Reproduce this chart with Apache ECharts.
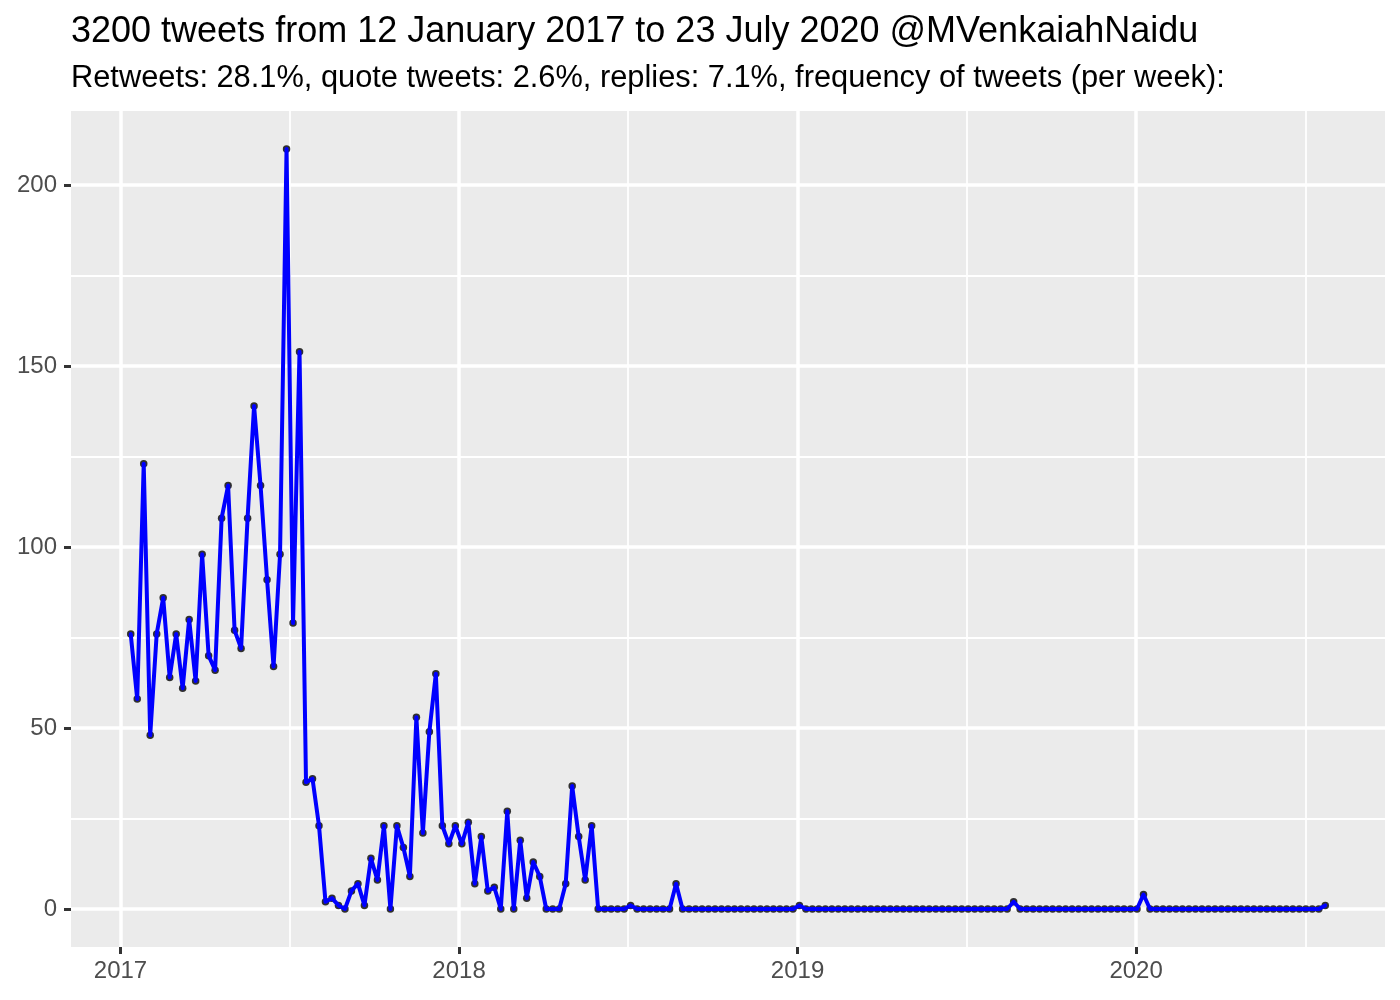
<!DOCTYPE html>
<html>
<head>
<meta charset="utf-8">
<script src="https://cdn.jsdelivr.net/npm/echarts@6/dist/echarts.min.js"></script>
<style>
html,body{margin:0;padding:0;background:#fff;}
#chart{width:1400px;height:1000px;}
</style>
</head>
<body>
<div id="chart"></div>
<script>
// ---- data ----
const titleText = '3200 tweets from 12 January 2017 to 23 July 2020 @MVenkaiahNaidu';
const subtitleText = 'Retweets: 28.1%, quote tweets: 2.6%, replies: 7.1%, frequency of tweets (per week):';
const firstWeek = [2017, 0, 12];   // 12 January 2017, one point per week
const weeklyTweets = [
  76, 58, 123, 48, 76, 86, 64, 76, 61, 80, 63, 98, 70, 66, 108, 117, 77, 72, 108, 139,
  117, 91, 67, 98, 210, 79, 154, 35, 36, 23, 2, 3, 1, 0, 5, 7, 1, 14, 8, 23,
  0, 23, 17, 9, 53, 21, 49, 65, 23, 18, 23, 18, 24, 7, 20, 5, 6, 0, 27, 0,
  19, 3, 13, 9, 0, 0, 0, 7, 34, 20, 8, 23, 0, 0, 0, 0, 0, 1, 0, 0,
  0, 0, 0, 0, 7, 0, 0, 0, 0, 0, 0, 0, 0, 0, 0, 0, 0, 0, 0, 0,
  0, 0, 0, 1, 0, 0, 0, 0, 0, 0, 0, 0, 0, 0, 0, 0, 0, 0, 0, 0,
  0, 0, 0, 0, 0, 0, 0, 0, 0, 0, 0, 0, 0, 0, 0, 0, 2, 0, 0, 0,
  0, 0, 0, 0, 0, 0, 0, 0, 0, 0, 0, 0, 0, 0, 0, 0, 4, 0, 0, 0,
  0, 0, 0, 0, 0, 0, 0, 0, 0, 0, 0, 0, 0, 0, 0, 0, 0, 0, 0, 0,
  0, 0, 0, 0, 1
];
const yearTickDates = [[2017,0,1],[2018,0,1],[2019,0,1],[2020,0,1]];
const halfYearDates = [[2016,6,2],[2017,6,2],[2018,6,2],[2019,6,2],[2020,6,2]];
const yMajorTicks = [0, 50, 100, 150, 200];
const yMinorTicks = [25, 75, 125, 175];

// ---- build ----
const weekDates = weeklyTweets.map((_, i) => new Date(firstWeek[0], firstWeek[1], firstWeek[2] + 7 * i).getTime());
const points = weekDates.map((d, i) => [d, weeklyTweets[i]]);
const toTs = a => new Date(a[0], a[1], a[2]).getTime();
const yearTicks = yearTickDates.map(toTs);
const halfTicks = halfYearDates.map(toTs);

const xSpan = weekDates[weekDates.length - 1] - weekDates[0];
const xMin = weekDates[0] - 0.05 * xSpan;
const xMax = weekDates[weekDates.length - 1] + 0.05 * xSpan;
const yDataMax = Math.max(...weeklyTweets), yDataMin = Math.min(...weeklyTweets);
const ySpan = yDataMax - yDataMin;
const yMin = yDataMin - 0.05 * ySpan;
const yMax = yDataMax + 0.05 * ySpan;

const FONT = 'Liberation Sans, Arial, Helvetica, sans-serif';
const halfTicksIn = halfTicks.filter(t => t > xMin && t < xMax);

const chart = echarts.init(document.getElementById('chart'), null, {renderer: 'canvas'});
chart.setOption({
  animation: false,
  backgroundColor: '#FFFFFF',
  title: [
    {text: titleText, left: 71, top: 14, padding: 0,
     textStyle: {fontFamily: FONT, fontSize: 36, fontWeight: 'normal', color: '#000000'}},
    {text: subtitleText, left: 71, top: 63, padding: 0,
     textStyle: {fontFamily: FONT, fontSize: 30.8, fontWeight: 'normal', color: '#000000'}}
  ],
  grid: {left: 71, right: 15, top: 111, bottom: 53, show: true, backgroundColor: '#EBEBEB',
         borderWidth: 0, containLabel: false, outerBoundsMode: 'none'},
  xAxis: [
    {type: 'value', min: xMin, max: xMax, position: 'bottom', scale: true,
     axisLine: {show: false, onZero: false},
     axisTick: {show: true, length: 7, customValues: yearTicks, lineStyle: {color: '#333333', width: 3}},
     axisLabel: {show: true, customValues: yearTicks, margin: 12, fontFamily: FONT, fontSize: 24, color: '#4D4D4D',
                 formatter: v => String(new Date(v).getFullYear()), hideOverlap: false},
     splitLine: {show: true, showMinLine: true, showMaxLine: true, lineStyle: {color: '#FFFFFF', width: 3.5}},
     minorTick: {show: false}, minorSplitLine: {show: false}},
    {type: 'value', min: xMin, max: xMax, position: 'top', scale: true,
     axisLine: {show: false, onZero: false},
     axisTick: {show: false, customValues: halfTicksIn},
     axisLabel: {show: false, customValues: halfTicksIn},
     splitLine: {show: true, showMinLine: true, showMaxLine: true, lineStyle: {color: '#FFFFFF', width: 1.8}}}
  ],
  yAxis: [
    {type: 'value', min: yMin, max: yMax, position: 'left',
     axisLine: {show: false, onZero: false},
     axisTick: {show: true, length: 7, customValues: yMajorTicks, lineStyle: {color: '#333333', width: 3}},
     axisLabel: {show: true, customValues: yMajorTicks, margin: 14, fontFamily: FONT, fontSize: 24, color: '#4D4D4D'},
     splitLine: {show: true, showMinLine: true, showMaxLine: true, lineStyle: {color: '#FFFFFF', width: 3.5}}},
    {type: 'value', min: yMin, max: yMax, position: 'right',
     axisLine: {show: false, onZero: false},
     axisTick: {show: false, customValues: yMinorTicks},
     axisLabel: {show: false, customValues: yMinorTicks},
     splitLine: {show: true, showMinLine: true, showMaxLine: true, lineStyle: {color: '#FFFFFF', width: 1.8}}}
  ],
  series: [
    {type: 'scatter', name: 'points', xAxisIndex: 0, yAxisIndex: 0, data: points, z: 3,
     symbol: 'circle', symbolSize: 7.5, itemStyle: {color: '#000000'}, silent: true},
    {type: 'line', name: 'tweets', xAxisIndex: 0, yAxisIndex: 0, data: points, z: 4,
     showSymbol: false, symbol: 'none', lineStyle: {color: '#0000FF', width: 4, join: 'round', cap: 'round'}, silent: true}
  ]
});
</script>
</body>
</html>
